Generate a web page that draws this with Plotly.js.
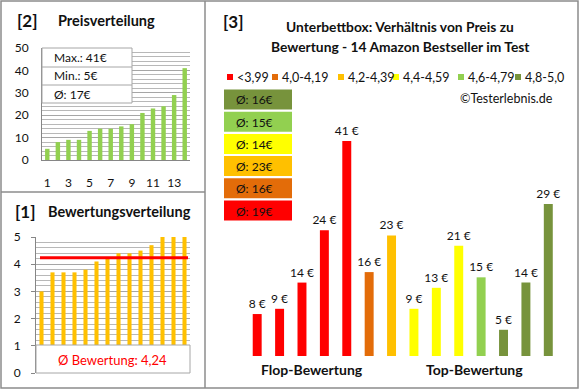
<!DOCTYPE html>
<html>
<head>
<meta charset="utf-8">
<script src="https://cdn.plot.ly/plotly-3.0.1.min.js"></script>
<style>html,body{margin:0;padding:0;background:#fff;}#chart{width:580px;height:390px;}</style>
</head>
<body>
<div id="chart"></div>
<script>
// ---------- DATA ----------
// Panel [2]: price distribution (sorted, €)
const pricesSorted = [5, 8, 9, 9, 13, 14, 14, 15, 16, 21, 23, 24, 29, 41];
// Panel [1]: rating distribution (sorted)
const ratingsSorted = [3.0, 3.7, 3.7, 3.7, 3.8, 4.1, 4.2, 4.4, 4.4, 4.5, 4.7, 5.0, 5.0, 5.0];
const avgRating = 4.24;
const avgRatingLabel = "Ø Bewertung: 4,24";
// Panel [3]: price per product, ordered from flop to top rating
const productPrices = [8, 9, 14, 24, 41, 16, 23, 9, 13, 21, 15, 5, 14, 29];
const productGroup  = [0, 0, 0, 0, 0, 1, 2, 3, 3, 3, 4, 5, 5, 5];
const groupLabels = ["<3,99", "4,0-4,19", "4,2-4,39", "4,4-4,59", "4,6-4,79", "4,8-5,0"];
const groupColors = ["#FF0000", "#E36C09", "#FFC000", "#FFFF00", "#92D050", "#77933C"];

// ---------- HELPERS ----------
const W = 580, H = 390;
const fx = p => p / W;
const fy = p => 1 - p / H;
const FONT = "Lato, 'Open Sans', sans-serif";
const TXT = "#111111";

// derived stats
const pMax = Math.max(...pricesSorted);
const pMin = Math.min(...pricesSorted);
const pAvg = Math.round(pricesSorted.reduce((a, b) => a + b, 0) / pricesSorted.length);
const groupAvg = groupLabels.map((_, g) => {
  const v = productPrices.filter((_, i) => productGroup[i] === g);
  return Math.round(v.reduce((a, b) => a + b, 0) / v.length);
});

// ---------- TRACES ----------
const idx14 = pricesSorted.map((_, i) => i + 1);
const traces = [
  { type: "bar", x: idx14, y: pricesSorted, xaxis: "x", yaxis: "y",
    marker: { color: "#92D050" }, width: 0.42, hoverinfo: "none" },
  { type: "bar", x: idx14, y: ratingsSorted, xaxis: "x2", yaxis: "y2",
    marker: { color: "#FFC000" }, width: 0.37, hoverinfo: "none" },
  { type: "bar", x: productPrices.map((_, i) => i), y: productPrices, xaxis: "x3", yaxis: "y3",
    marker: { color: productGroup.map(g => groupColors[g]) }, width: 0.4,
    text: productPrices.map(v => v + " €"), textposition: "outside",
    textfont: { family: FONT, size: 12, color: TXT }, cliponaxis: false,
    constraintext: "none", hoverinfo: "none" }
];

// ---------- SHAPES ----------
const grey = "#8c8c8c";
const shapes = [
  // frames
  { type: "rect", xref: "paper", yref: "paper", x0: fx(1), x1: fx(578), y0: fy(1), y1: fy(388),
    line: { color: grey, width: 1.5 }, layer: "above" },
  { type: "line", xref: "paper", yref: "paper", x0: fx(205), x1: fx(205), y0: fy(1), y1: fy(388),
    line: { color: grey, width: 1.5 }, layer: "above" },
  { type: "line", xref: "paper", yref: "paper", x0: fx(1), x1: fx(205), y0: fy(192), y1: fy(192),
    line: { color: grey, width: 1.5 }, layer: "above" },
  // panel 2 stats box
  { type: "rect", xref: "paper", yref: "paper", x0: fx(42), x1: fx(132), y0: fy(48), y1: fy(103),
    fillcolor: "#ffffff", line: { color: "#a6a6a6", width: 1 }, layer: "above" },
  { type: "line", xref: "paper", yref: "paper", x0: fx(42), x1: fx(132), y0: fy(67), y1: fy(67),
    line: { color: "#a6a6a6", width: 1 }, layer: "above" },
  { type: "line", xref: "paper", yref: "paper", x0: fx(42), x1: fx(132), y0: fy(85), y1: fy(85),
    line: { color: "#a6a6a6", width: 1 }, layer: "above" },
  // panel 1 average line
  { type: "line", xref: "x2 domain", yref: "y2", x0: 0.026, x1: 0.987, y0: avgRating, y1: avgRating,
    line: { color: "#FF0000", width: 3 }, layer: "above" },
  // panel 1 average box
  { type: "rect", xref: "paper", yref: "paper", x0: fx(36), x1: fx(190), y0: fy(345), y1: fy(373),
    fillcolor: "#ffffff", line: { color: "#a6a6a6", width: 1 }, layer: "above" }
];

// ---------- ANNOTATIONS ----------
const ann = [];
function addText(text, x, y, size, opts) {
  ann.push(Object.assign({ text: text, xref: "paper", yref: "paper", x: fx(x), y: fy(y),
    xanchor: "left", yanchor: "middle", showarrow: false,
    font: { family: FONT, size: size, color: TXT } }, opts || {}));
}
// panel titles
addText("<b>[2]</b>", 15, 20, 17);
addText("<b>Preisverteilung</b>", 56, 20, 14.5);
addText("<b>[1]</b>", 13, 211, 17);
addText("<b>Bewertungsverteilung</b>", 46, 211, 14.5);
addText("<b>[3]</b>", 221, 21, 17);
addText("<b>Unterbettbox: Verhältnis von Preis zu</b>", 400, 27, 13.8, { xanchor: "center" });
addText("<b>Bewertung - 14 Amazon Bestseller im Test</b>", 400, 46, 13.8, { xanchor: "center" });
// panel 2 stats
addText("Max.: " + pMax + "€", 52, 57.5, 12);
addText("Min.: " + pMin + "€", 52, 76, 12);
addText("Ø: " + pAvg + "€", 52, 94, 12);
// panel 1 avg label
addText(avgRatingLabel, 112, 359.5, 13, { xanchor: "center", font: { family: FONT, size: 13, color: "#FF0000" } });
// panel 3 legend
const legX = [227, 272, 338, 393, 458, 515];
groupLabels.forEach((lab, g) => {
  shapes.push({ type: "rect", xref: "paper", yref: "paper", x0: fx(legX[g]), x1: fx(legX[g] + 6),
    y0: fy(74), y1: fy(80), fillcolor: groupColors[g], line: { width: 0 }, layer: "above" });
  addText(lab, legX[g] + 8, 77.5, 12.5);
});
addText("©Testerlebnis.de", 555, 98, 12.5, { xanchor: "right" });
// panel 3 average boxes (top row = best group)
groupLabels.forEach((_, g) => {
  const row = groupLabels.length - 1 - g;
  const top = 89.5 + row * 22.2;
  shapes.push({ type: "rect", xref: "paper", yref: "paper", x0: fx(224), x1: fx(292),
    y0: fy(top), y1: fy(top + 20), fillcolor: groupColors[g], line: { width: 0 }, layer: "above" });
  addText("Ø: " + groupAvg[g] + "€", 234, top + 10.5, 12);
});
addText("<b>Flop-Bewertung</b>", 312, 369, 14, { xanchor: "center" });
addText("<b>Top-Bewertung</b>", 474.5, 369, 14, { xanchor: "center" });

// ---------- LAYOUT ----------
const layout = {
  width: W, height: H, margin: { l: 0, r: 0, t: 0, b: 0 },
  paper_bgcolor: "#ffffff", plot_bgcolor: "rgba(0,0,0,0)",
  showlegend: false, font: { family: FONT, color: TXT, size: 12 },
  xaxis: { domain: [fx(42), fx(190)], anchor: "y", range: [0.5, 14.5], tick0: 1, dtick: 2,
    showgrid: false, zeroline: false, showline: true, linecolor: "#868686", linewidth: 1,
    ticks: "", tickfont: { size: 12, color: TXT }, ticklabelstandoff: 12, fixedrange: true },
  yaxis: { domain: [fy(160), fy(48)], anchor: "x", range: [0, 50], dtick: 10,
    showgrid: true, gridcolor: "#a6a6a6", gridwidth: 1, zeroline: false,
    minor: { dtick: 2, showgrid: true, gridcolor: "#b8b8b8", gridwidth: 1 },
    showline: true, linecolor: "#868686", ticks: "", tickfont: { size: 12, color: TXT },
    ticklabelstandoff: 10, fixedrange: true },
  xaxis2: { domain: [fx(36), fx(190)], anchor: "y2", range: [0.5, 14.5], showticklabels: false,
    showgrid: false, zeroline: false, showline: false, ticks: "", fixedrange: true },
  yaxis2: { domain: [fy(373), fy(237)], anchor: "x2", range: [0, 5], dtick: 1,
    showgrid: true, gridcolor: "#a6a6a6", zeroline: false,
    minor: { dtick: 0.2, showgrid: true, gridcolor: "#b8b8b8" },
    showline: true, linecolor: "#868686", ticks: "outside", ticklen: 4, tickcolor: "#868686",
    tickfont: { size: 12, color: TXT }, ticklabelstandoff: 8, fixedrange: true },
  xaxis3: { domain: [fx(246), fx(559.5)], anchor: "y3", range: [-0.5, 13.5], visible: false, fixedrange: true },
  yaxis3: { domain: [fy(356), fy(120)], anchor: "x3", range: [0, 45], visible: false, fixedrange: true },
  shapes: shapes, annotations: ann
};

Plotly.newPlot("chart", traces, layout, { staticPlot: true, displayModeBar: false });
</script>
</body>
</html>
